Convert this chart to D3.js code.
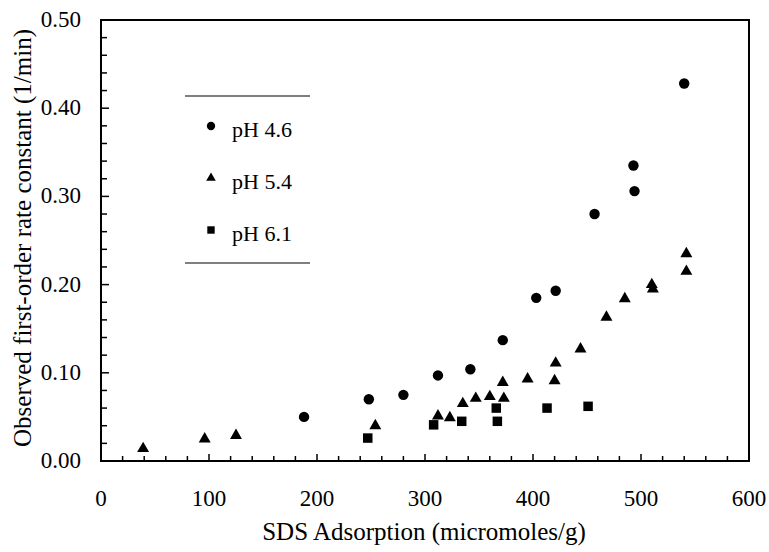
<!DOCTYPE html>
<html>
<head>
    <title>Rate constant vs SDS adsorption</title>
    <script src="https://d3js.org/d3.v7.min.js"></script>
    <style>
        body { margin: 0; background: #fff; }
        text { font-family: 'Liberation Serif', 'Times New Roman', serif; fill: #000; }
        .axis-title { font-size: 25px; }
        .tick-label { font-size: 23px; }
        .legend text { font-size: 22px; }
    </style>
</head>
<body>
<script>
    // pH 4.6 (circles)
    var ph46X = [188, 248, 280, 312, 342, 372, 403, 421, 457, 493, 494, 540];
    var ph46Y = [0.050, 0.070, 0.075, 0.097, 0.104, 0.137, 0.185, 0.193, 0.280, 0.335, 0.306, 0.428];
    // pH 5.4 (triangles)
    var ph54X = [39, 96, 125, 254, 312, 323, 335, 347, 360, 372, 373, 395, 420, 421, 444, 468, 485, 510, 511, 542, 542];
    var ph54Y = [0.014, 0.025, 0.029, 0.040, 0.051, 0.049, 0.065, 0.071, 0.073, 0.089, 0.071, 0.093, 0.091, 0.111, 0.127, 0.163, 0.184, 0.200, 0.195, 0.235, 0.215];
    // pH 6.1 (squares)
    var ph61X = [247, 308, 334, 366, 367, 413, 451];
    var ph61Y = [0.026, 0.041, 0.045, 0.060, 0.045, 0.060, 0.062];

    var legendLabels = ["pH 4.6", "pH 5.4", "pH 6.1"];
    var xTicks = [0, 100, 200, 300, 400, 500, 600];
    var yTicks = [0.0, 0.1, 0.2, 0.3, 0.4, 0.5];

    var width = 769, height = 552;
    var plotL = 101, plotR = 749, plotT = 20, plotB = 461;

    var svg = d3.select("body").append("svg")
        .attr("width", width)
        .attr("height", height);

    var x = d3.scaleLinear().domain([0, 600]).range([plotL, plotR]);
    var y = d3.scaleLinear().domain([0, 0.5]).range([plotB, plotT]);

    // minor ticks, pointing inward
    var xMinor = d3.range(0, 601, 20);
    var yMinor = d3.range(0, 26).map(function(i) { return i * 0.02; });

    svg.append("g").selectAll("line")
        .data(xMinor)
        .enter().append("line")
        .attr("x1", function(d) { return x(d); })
        .attr("x2", function(d) { return x(d); })
        .attr("y1", plotB)
        .attr("y2", function(d) { return d % 100 === 0 ? plotB - 7 : plotB - 5; })
        .attr("stroke", "#000")
        .attr("stroke-width", 1.5);

    svg.append("g").selectAll("line")
        .data(yMinor)
        .enter().append("line")
        .attr("x1", plotL)
        .attr("x2", function(d, i) { return i % 5 === 0 ? plotL + 8 : plotL + 6; })
        .attr("y1", function(d) { return y(d); })
        .attr("y2", function(d) { return y(d); })
        .attr("stroke", "#000")
        .attr("stroke-width", 1.5);

    // frame
    svg.append("rect")
        .attr("x", plotL)
        .attr("y", plotT)
        .attr("width", plotR - plotL)
        .attr("height", plotB - plotT)
        .attr("fill", "none")
        .attr("stroke", "#000")
        .attr("stroke-width", 2);

    // tick labels
    svg.append("g").selectAll("text")
        .data(xTicks)
        .enter().append("text")
        .attr("class", "tick-label")
        .attr("x", function(d) { return x(d); })
        .attr("y", 506)
        .attr("text-anchor", "middle")
        .text(function(d) { return d; });

    svg.append("g").selectAll("text")
        .data(yTicks)
        .enter().append("text")
        .attr("class", "tick-label")
        .attr("x", 81)
        .attr("y", function(d) { return y(d) + 7; })
        .attr("text-anchor", "end")
        .text(function(d) { return d3.format(".2f")(d); });

    // axis titles
    svg.append("text")
        .attr("class", "axis-title")
        .attr("x", 424)
        .attr("y", 540)
        .attr("text-anchor", "middle")
        .text("SDS Adsorption (micromoles/g)");

    svg.append("text")
        .attr("class", "axis-title")
        .attr("transform", "translate(31,238) rotate(-90)")
        .attr("text-anchor", "middle")
        .text("Observed first-order rate constant (1/min)");

    // points
    var circle = d3.symbol().type(d3.symbolCircle).size(85);
    var triangle = d3.symbol().type(d3.symbolTriangle).size(62);
    var square = d3.symbol().type(d3.symbolSquare).size(90);

    svg.append("g").selectAll("path")
        .data(ph46X)
        .enter().append("path")
        .attr("d", circle)
        .attr("transform", function(d, i) { return "translate(" + x(d) + "," + y(ph46Y[i]) + ")"; })
        .attr("fill", "#000");

    svg.append("g").selectAll("path")
        .data(ph54X)
        .enter().append("path")
        .attr("d", triangle)
        .attr("transform", function(d, i) { return "translate(" + x(d) + "," + y(ph54Y[i]) + ")"; })
        .attr("fill", "#000");

    svg.append("g").selectAll("path")
        .data(ph61X)
        .enter().append("path")
        .attr("d", square)
        .attr("transform", function(d, i) { return "translate(" + x(d) + "," + y(ph61Y[i]) + ")"; })
        .attr("fill", "#000");

    // legend
    var legend = svg.append("g").attr("class", "legend");
    legend.append("line").attr("x1", 185).attr("x2", 310).attr("y1", 96).attr("y2", 96)
        .attr("stroke", "#000").attr("stroke-width", 1.2);
    legend.append("line").attr("x1", 185).attr("x2", 310).attr("y1", 263).attr("y2", 263)
        .attr("stroke", "#000").attr("stroke-width", 1.2);

    var legendSymbols = [
        d3.symbol().type(d3.symbolCircle).size(55),
        d3.symbol().type(d3.symbolTriangle).size(40),
        d3.symbol().type(d3.symbolSquare).size(55)
    ];

    var item = legend.selectAll("g.item")
        .data(legendLabels)
        .enter().append("g")
        .attr("class", "item")
        .attr("transform", function(d, i) { return "translate(0," + (126 + i * 52) + ")"; });

    item.append("path")
        .attr("d", function(d, i) { return legendSymbols[i](); })
        .attr("transform", "translate(211,0)")
        .attr("fill", "#000");

    item.append("text")
        .attr("x", 232)
        .attr("y", 11)
        .text(function(d) { return d; });
</script>
</body>
</html>
